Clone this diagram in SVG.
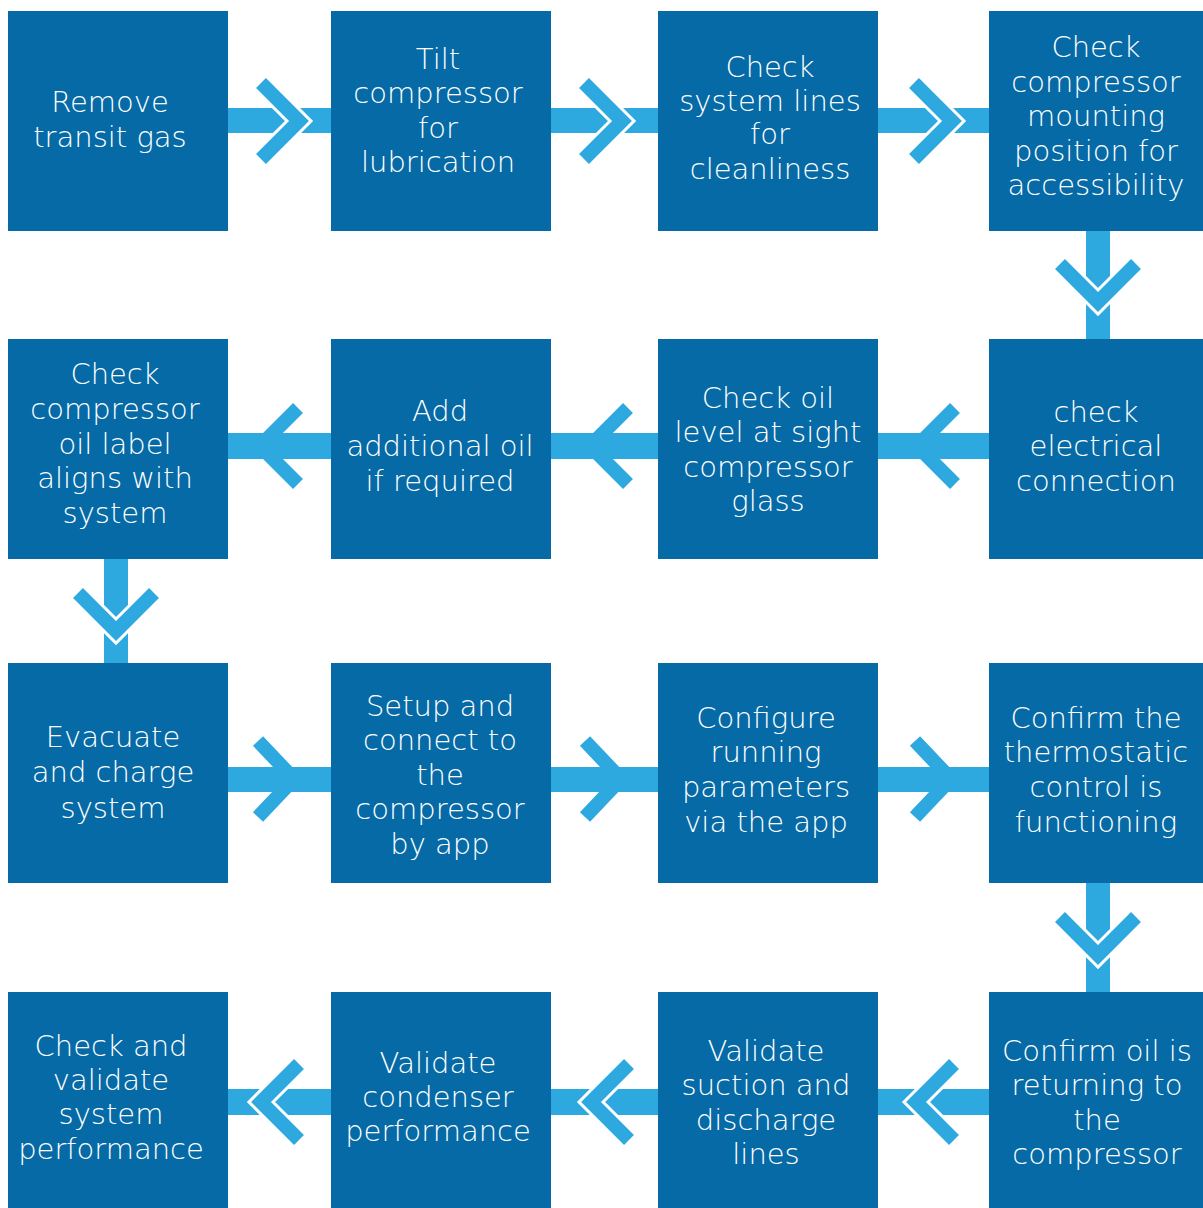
<svg xmlns="http://www.w3.org/2000/svg" width="1203" height="1208" viewBox="0 0 1203 1208">
<style>
.box{fill:#056AA6}
.bar{fill:#2EA9E0}
.chev{fill:none;stroke:#2EA9E0;stroke-width:14;stroke-linejoin:miter;stroke-miterlimit:10}
.halo{fill:none;stroke:#ffffff;stroke-width:20;stroke-linejoin:miter;stroke-miterlimit:10}
text{font-family:"DejaVu Sans","Liberation Sans",sans-serif;font-size:29px;font-weight:200;fill:#ffffff;text-anchor:middle}
</style>
<rect width="1203" height="1208" fill="#ffffff"/>
<g id="connectors">
<!-- row 1 -->
<rect class="bar" x="228" y="108" width="103" height="25"/>
<polyline class="halo" points="261,83 299,121 261,159"/>
<polyline class="chev" points="261,83 299,121 261,159"/>
<rect class="bar" x="551" y="108" width="107" height="25"/>
<polyline class="halo" points="584,83 622,121 584,159"/>
<polyline class="chev" points="584,83 622,121 584,159"/>
<rect class="bar" x="878" y="108" width="111" height="25"/>
<polyline class="halo" points="914,83 952,121 914,159"/>
<polyline class="chev" points="914,83 952,121 914,159"/>
<!-- down 1 -->
<rect class="bar" x="1086" y="231" width="24" height="108"/>
<polyline class="halo" points="1060,264 1098,302 1136,264"/>
<polyline class="chev" points="1060,264 1098,302 1136,264"/>
<!-- row 2 -->
<polyline class="chev" points="955,408 917,446 955,484"/>
<rect class="bar" x="878" y="433" width="111" height="26"/>
<polyline class="chev" points="628,408 590,446 628,484"/>
<rect class="bar" x="551" y="433" width="107" height="26"/>
<polyline class="chev" points="298,408 260,446 298,484"/>
<rect class="bar" x="228" y="433" width="103" height="26"/>
<!-- down 2 -->
<rect class="bar" x="104" y="559" width="24" height="104"/>
<polyline class="halo" points="78,593 116,631 154,593"/>
<polyline class="chev" points="78,593 116,631 154,593"/>
<!-- row 3 -->
<rect class="bar" x="228" y="767" width="103" height="25"/>
<polyline class="chev" points="258,741 294,779 258,817"/>
<rect class="bar" x="551" y="767" width="107" height="25"/>
<polyline class="chev" points="585,741 621,779 585,817"/>
<rect class="bar" x="878" y="767" width="111" height="25"/>
<polyline class="chev" points="915,741 951,779 915,817"/>
<!-- down 3 -->
<rect class="bar" x="1086" y="883" width="24" height="109"/>
<polyline class="halo" points="1060,917 1098,955 1136,917"/>
<polyline class="chev" points="1060,917 1098,955 1136,917"/>
<!-- row 4 -->
<rect class="bar" x="878" y="1089" width="111" height="26"/>
<polyline class="halo" points="954,1064 916,1102 954,1140"/>
<polyline class="chev" points="954,1064 916,1102 954,1140"/>
<rect class="bar" x="551" y="1089" width="107" height="26"/>
<polyline class="halo" points="629,1064 591,1102 629,1140"/>
<polyline class="chev" points="629,1064 591,1102 629,1140"/>
<rect class="bar" x="228" y="1089" width="103" height="26"/>
<polyline class="halo" points="299,1064 261,1102 299,1140"/>
<polyline class="chev" points="299,1064 261,1102 299,1140"/>
</g>
<g id="n1"><rect class="box" x="8" y="11" width="220" height="220"/>
<text x="110" y="112">Remove</text><text x="110" y="147">transit gas</text></g>
<g id="n2"><rect class="box" x="331" y="11" width="220" height="220"/>
<text x="438" y="69">Tilt</text><text x="438" y="103">compressor</text><text x="438" y="138">for</text><text x="438" y="172">lubrication</text></g>
<g id="n3"><rect class="box" x="658" y="11" width="220" height="220"/>
<text x="770" y="77">Check</text><text x="770" y="111">system lines</text><text x="770" y="144">for</text><text x="770" y="179">cleanliness</text></g>
<g id="n4"><rect class="box" x="989" y="11" width="214" height="220"/>
<text x="1096" y="57">Check</text><text x="1096" y="92">compressor</text><text x="1096" y="126">mounting</text><text x="1096" y="161">position for</text><text x="1096" y="195">accessibility</text></g>
<g id="n5"><rect class="box" x="8" y="339" width="220" height="220"/>
<text x="115" y="384">Check</text><text x="115" y="419">compressor</text><text x="115" y="454">oil label</text><text x="115" y="488">aligns with</text><text x="115" y="523">system</text></g>
<g id="n6"><rect class="box" x="331" y="339" width="220" height="220"/>
<text x="440" y="421">Add</text><text x="440" y="456">additional oil</text><text x="440" y="491">if required</text></g>
<g id="n7"><rect class="box" x="658" y="339" width="220" height="220"/>
<text x="768" y="408">Check oil</text><text x="768" y="442">level at sight</text><text x="768" y="477">compressor</text><text x="768" y="511">glass</text></g>
<g id="n8"><rect class="box" x="989" y="339" width="214" height="220"/>
<text x="1096" y="422">check</text><text x="1096" y="456">electrical</text><text x="1096" y="491">connection</text></g>
<g id="n9"><rect class="box" x="8" y="663" width="220" height="220"/>
<text x="113" y="747">Evacuate</text><text x="113" y="782">and charge</text><text x="113" y="818">system</text></g>
<g id="n10"><rect class="box" x="331" y="663" width="220" height="220"/>
<text x="440" y="716">Setup and</text><text x="440" y="750">connect to</text><text x="440" y="785">the</text><text x="440" y="819">compressor</text><text x="440" y="854">by app</text></g>
<g id="n11"><rect class="box" x="658" y="663" width="220" height="220"/>
<text x="766" y="728">Configure</text><text x="766" y="762">running</text><text x="766" y="797">parameters</text><text x="766" y="832">via the app</text></g>
<g id="n12"><rect class="box" x="989" y="663" width="214" height="220"/>
<text x="1096" y="728">Confirm the</text><text x="1096" y="762">thermostatic</text><text x="1096" y="797">control is</text><text x="1096" y="832">functioning</text></g>
<g id="n13"><rect class="box" x="8" y="992" width="220" height="216"/>
<text x="111" y="1056">Check and</text><text x="111" y="1090">validate</text><text x="111" y="1124">system</text><text x="111" y="1159">performance</text></g>
<g id="n14"><rect class="box" x="331" y="992" width="220" height="216"/>
<text x="438" y="1073">Validate</text><text x="438" y="1107">condenser</text><text x="438" y="1141">performance</text></g>
<g id="n15"><rect class="box" x="658" y="992" width="220" height="216"/>
<text x="766" y="1061">Validate</text><text x="766" y="1095">suction and</text><text x="766" y="1130">discharge</text><text x="766" y="1164">lines</text></g>
<g id="n16"><rect class="box" x="989" y="992" width="214" height="216"/>
<text x="1097" y="1061">Confirm oil is</text><text x="1097" y="1095">returning to</text><text x="1097" y="1130">the</text><text x="1097" y="1164">compressor</text></g>
</svg>
